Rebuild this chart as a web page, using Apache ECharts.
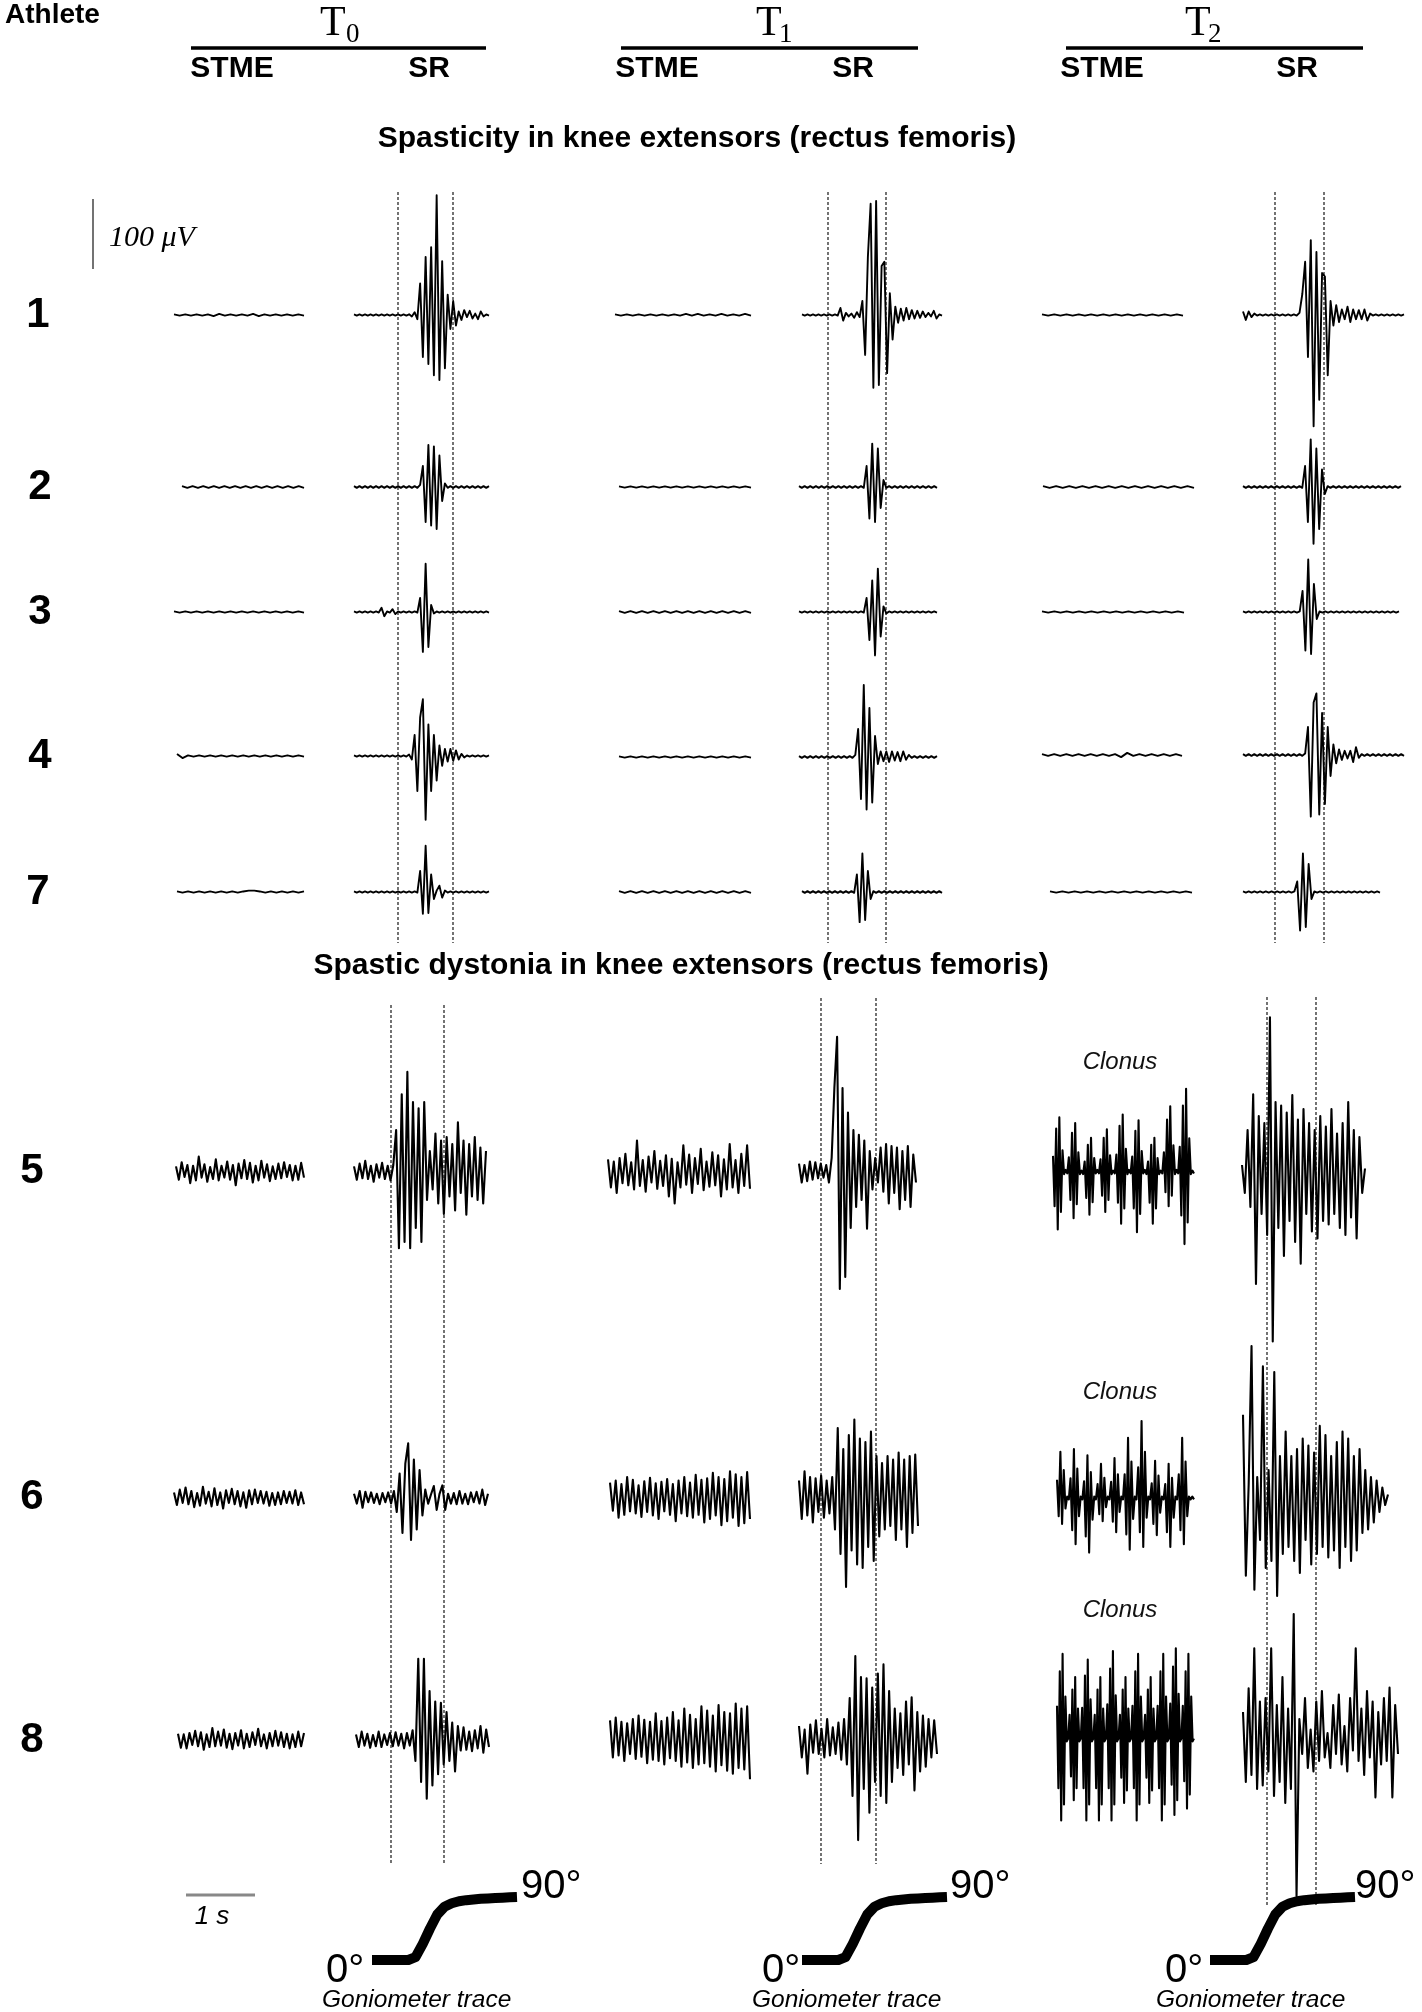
<!DOCTYPE html>
<html>
<head>
<meta charset="utf-8">
<title>EMG stretch responses</title>
<script src="https://cdn.jsdelivr.net/npm/echarts@6/dist/echarts.min.js"></script>
<style>
  html, body { margin: 0; padding: 0; background: #fff; }
  #chart { width: 1422px; height: 2012px; }
</style>
</head>
<body>
<div id="chart"></div>
<script>
// EMG samples in µV (one value per sample, left to right)

// spasticity, STME
const a1_t0_stme = [0.8,-0.8,0.8,-0.8,0.8,-0.8,0.8,-1.5,1.5,-0.8,0.8,-0.8,0.8,-0.8,1.5,-1.5,0.8,-0.8,0.8,-0.8,0.8,-0.8,0.8,-0.8];
const a1_t1_stme = [0.8,-0.8,0.8,-0.8,0.8,-0.8,0.8,-0.8,0.8,-0.8,0.8,-0.8,1.5,-0.8,1.5,-0.8,0.8,-0.8,1.5,-0.8,0.8,-0.8,1.5,-0.8];
const a1_t2_stme = [0.8,-0.8,0.8,-0.8,0.8,-0.8,0.8,-0.8,0.8,-0.8,0.8,-0.8,0.8,-0.8,0.8,-0.8,0.8,-0.8,0.8,-0.8,0.8,-0.8,0.8,-0.8];
const a2_t0_stme = [1.2,-1.2,1.2,-1.2,1.2,-1.2,1.2,-1.2,1.2,-1.2,1.2,-1.2,1.2,-1.2,1.2,-1.2,1.2,-1.2,1.2,-1.2,1.2,-1.2,1.2,-1.2];
const a2_t1_stme = [0.8,-0.8,0.8,-0.8,0.8,-0.8,0.8,-0.8,0.8,-0.8,0.8,-0.8,0.8,-0.8,0.8,-0.8,0.8,-0.8,0.8,-0.8,0.8,-0.8,0.8,-0.8];
const a2_t2_stme = [1.2,-1.2,1.2,-1.2,1.2,-1.2,1.2,-1.2,1.2,-1.2,1.2,-1.2,1.2,-1.2,1.2,-1.2,1.2,-1.2,1.2,-1.2,1.2,-1.2,1.2,-1.2];
const a3_t0_stme = [0.8,-0.8,0.8,-0.8,0.8,-0.8,0.8,-0.8,0.8,-0.8,0.8,-0.8,0.8,-0.8,0.8,-0.8,0.8,-0.8,0.8,-0.8,0.8,-0.8,0.8,-0.8];
const a3_t1_stme = [1.2,-1.2,1.2,-1.2,1.2,-1.2,1.2,-1.2,1.2,-1.2,1.2,-1.2,1.2,-1.2,1.2,-1.2,1.2,-1.2,1.2,-1.2,1.2,-1.2,1.2,-1.2];
const a3_t2_stme = [0.8,-0.8,0.8,-0.8,0.8,-0.8,0.8,-0.8,0.8,-0.8,0.8,-0.8,0.8,-0.8,0.8,-0.8,0.8,-0.8,0.8,-0.8,0.8,-0.8,0.8,-0.8];
const a4_t0_stme = [3,-3,0.8,-0.8,0.8,-0.8,0.8,-0.8,0.8,-0.8,0.8,-0.8,0.8,-0.8,0.8,-0.8,0.8,-0.8,0.8,-0.8,0.8,-0.8,0.8,-0.8];
const a4_t1_stme = [0.8,-0.8,0.8,-0.8,0.8,-0.8,0.8,-0.8,0.8,-0.8,0.8,-0.8,0.8,-0.8,0.8,-0.8,0.8,-0.8,0.8,-0.8,0.8,-0.8,0.8,-0.8];
const a4_t2_stme = [1.2,-1.2,1.2,-1.2,1.2,-1.2,1.2,-1.2,1.2,-1.2,1.2,-1.2,1.2,-3,3,-1.2,1.2,-1.2,1.2,-1.2,1.2,-1.2,1.2,-1.2];
const a7_t0_stme = [0.8,-0.8,0.8,-0.8,0.8,-0.8,0.8,-0.8,0.8,-0.8,0.8,-0.8,0.8,2,2,0.8,-0.8,0.8,-0.8,0.8,-0.8,0.8,-0.8,0.8];
const a7_t1_stme = [1.2,-1.2,1.2,-1.2,1.2,-1.2,1.2,-1.2,1.2,-1.2,1.2,-1.2,1.2,-1.2,1.2,-1.2,1.2,-1.2,1.2,-1.2,1.2,-1.2,1.2,-1.2];
const a7_t2_stme = [0.8,-0.8,0.8,-0.8,0.8,-0.8,0.8,-0.8,0.8,-0.8,0.8,-0.8,0.8,-0.8,0.8,-0.8,0.8,-0.8,0.8,-0.8,0.8,-0.8,0.8,-0.8];

// spasticity, SR
const a1_t0_sr = [0.8,-0.8,0.8,-0.8,0.8,-0.8,0.8,-0.8,0.8,-0.8,0.8,-0.8,0.8,-0.8,0.8,-0.8,0.8,-0.8,0.8,-0.8,1,-2,4,-6,45,-60,83,-70,97,-86,
  171,-93,77,-76,29,-20,20,-15,5,-7,7,-3,6,-5,2,-6,5,-2,0.8,-0.8];
const a2_t0_sr = [1.2,-1.2,1.2,-1.2,1.2,-1.2,1.2,-1.2,1.2,-1.2,1.2,-1.2,1.2,-1.2,1.2,-1.2,1.2,-1.2,1.2,-1.2,1.2,-1.2,1.2,-1.2,3,30,-50,60,-55,58,
  -60,45,-20,5,-1.2,1.2,-1.2,1.2,-1.2,1.2,-1.2,1.2,-1.2,1.2,-1.2,1.2,-1.2,1.2,-1.2,1.2];
const a3_t0_sr = [0.8,-0.8,0.8,-0.8,0.8,-0.8,0.8,-0.8,0.8,-0.8,6,-6,0.8,-0.8,4,-3,0.8,-0.8,0.8,-0.8,0.8,-0.8,0.8,-0.8,20,-57,69,-50,10,-2,
  0.8,-0.8,0.8,-0.8,0.8,-0.8,0.8,-0.8,0.8,-0.8,0.8,-0.8,0.8,-0.8,0.8,-0.8,0.8,-0.8,0.8,-0.8];
const a4_t0_sr = [0.8,-0.8,0.8,-0.8,0.8,-0.8,0.8,-0.8,0.8,-0.8,0.8,-0.8,0.8,-0.8,0.8,-0.8,0.8,-0.8,0.8,-0.8,2,-5,30,-50,55,81,-91,45,-50,30,
  -35,15,-14,10,-8,10,-7,8,-5,3,-2,0.8,-0.8,0.8,-0.8,0.8,-0.8,0.8,-0.8,0.8];
const a7_t0_sr = [0.8,-0.8,0.8,-0.8,0.8,-0.8,0.8,-0.8,0.8,-0.8,0.8,-0.8,0.8,-0.8,0.8,-0.8,0.8,-0.8,0.8,-0.8,0.8,-0.8,0.8,-0.8,30,-31,66,-30,25,-10,
  2,9,-8,2,-0.8,0.8,-0.8,0.8,-0.8,0.8,-0.8,0.8,-0.8,0.8,-0.8,0.8,-0.8,0.8,-0.8,0.8];
const a1_t1_sr = [0.8,-0.8,0.8,-0.8,0.8,-0.8,0.8,-0.8,0.8,-0.8,0.8,-0.8,0.8,-0.8,10,-8,3,-2,2,-4,4,-3,20,-57,83,159,-104,163,-100,70,
  76,-83,31,-35,12,-11,9,-8,10,-6,7,-5,6,-4,5,-3,3,-2,6,-5,0.8,-0.8];
const a2_t1_sr = [1.2,-1.2,1.2,-1.2,1.2,-1.2,1.2,-1.2,1.2,-1.2,1.2,-1.2,1.2,-1.2,1.2,-1.2,1.2,-1.2,1.2,-1.2,1.2,-1.2,1.2,-1.2,30,-45,62,-50,55,-30,
  10,-1.2,1.2,-1.2,1.2,-1.2,1.2,-1.2,1.2,-1.2,1.2,-1.2,1.2,-1.2,1.2,-1.2,1.2,-1.2,1.2,-1.2];
const a3_t1_sr = [0.8,-0.8,0.8,-0.8,0.8,-0.8,0.8,-0.8,0.8,-0.8,0.8,-0.8,0.8,-0.8,0.8,-0.8,0.8,-0.8,0.8,-0.8,0.8,-0.8,0.8,-0.8,20,-40,45,-62,62,-35,
  8,-2,0.8,-0.8,0.8,-0.8,0.8,-0.8,0.8,-0.8,0.8,-0.8,0.8,-0.8,0.8,-0.8,0.8,-0.8,0.8,-0.8];
const a4_t1_sr = [1.2,-1.2,1.2,-1.2,1.2,-1.2,1.2,-1.2,1.2,-1.2,1.2,-1.2,1.2,-1.2,1.2,-1.2,1.2,-1.2,1.2,-1.2,3,40,-60,103,-75,70,-65,30,-10,8,
  -6,8,-7,8,-5,7,-6,8,-4,3,-1.2,1.2,-1.2,1.2,-1.2,1.2,-1.2,1.2,-1.2,1.2];
const a7_t1_sr = [1.2,-1.2,1.2,-1.2,1.2,-1.2,1.2,-1.2,1.2,-1.2,1.2,-1.2,1.2,-1.2,1.2,-1.2,1.2,-1.2,1.2,-1.2,25,-43,55,-40,30,-10,1.2,-1.2,1.2,-1.2,
  1.2,-1.2,1.2,-1.2,1.2,-1.2,1.2,-1.2,1.2,-1.2,1.2,-1.2,1.2,-1.2,1.2,-1.2,1.2,-1.2,1.2,-1.2,1.2,-1.2];
const a1_t2_sr = [5,-7,5,-3,2,-0.8,0.8,-0.8,0.8,-0.8,0.8,-0.8,0.8,-0.8,0.8,-0.8,0.8,-0.8,0.8,-0.8,3,30,76,-60,107,-159,90,-121,60,55,
  -86,20,-15,14,-10,8,-6,12,-10,8,-6,7,-6,8,-8,2,-0.8,0.8,-0.8,0.8,-0.8,0.8,-0.8,0.8,-0.8,0.8,-0.8,0.8];
const a2_t2_sr = [1.2,-1.2,1.2,-1.2,1.2,-1.2,1.2,-1.2,1.2,-1.2,1.2,-1.2,1.2,-1.2,1.2,-1.2,1.2,-1.2,1.2,-1.2,1.2,-1.2,30,-50,68,-81,55,-60,25,-10,
  1.2,-1.2,1.2,-1.2,1.2,-1.2,1.2,-1.2,1.2,-1.2,1.2,-1.2,1.2,-1.2,1.2,-1.2,1.2,-1.2,1.2,-1.2,1.2,-1.2,1.2,-1.2,1.2,-1.2,1.2];
const a3_t2_sr = [0.8,-0.8,0.8,-0.8,0.8,-0.8,0.8,-0.8,0.8,-0.8,0.8,-0.8,0.8,-0.8,0.8,-0.8,0.8,-0.8,0.8,-0.8,0.8,30,-55,75,-60,40,-10,0.8,-0.8,0.8,
  -0.8,0.8,-0.8,0.8,-0.8,0.8,-0.8,0.8,-0.8,0.8,-0.8,0.8,-0.8,0.8,-0.8,0.8,-0.8,0.8,-0.8,0.8,-0.8,0.8,-0.8,0.8,-0.8,0.8];
const a4_t2_sr = [1.2,-1.2,1.2,-1.2,1.2,-1.2,1.2,-1.2,1.2,-1.2,1.2,-1.2,1.2,-1.2,1.2,-1.2,1.2,-1.2,1.2,-1.2,1.2,-1.2,2,40,-88,75,88,-85,60,-70,
  40,-30,15,-12,8,-7,6,-5,6,-10,11,-4,1.2,-1.2,1.2,-1.2,1.2,-1.2,1.2,-1.2,1.2,-1.2,1.2,-1.2,1.2,-1.2,1.2,-1.2];
const a7_t2_sr = [0.8,-0.8,0.8,-0.8,0.8,-0.8,0.8,-0.8,0.8,-0.8,0.8,-0.8,0.8,-0.8,0.8,-0.8,0.8,-0.8,0.8,15,-55,55,-50,40,-10,0.8,-0.8,0.8,-0.8,0.8,
  -0.8,0.8,-0.8,0.8,-0.8,0.8,-0.8,0.8,-0.8,0.8,-0.8,0.8,-0.8,0.8,-0.8,0.8,-0.8,0.8,-0.8];

// spastic dystonia, STME
const b5_t0_stme = [8,-11,14,-7,10,-16,9,-12,22,-8,11,-14,7,-10,18,-12,9,-8,15,-11,10,-19,12,-9,17,-10,13,-15,9,-12,
  16,-8,11,-13,8,-10,12,-9,14,-7,10,-12,9,-11,13,-8];
const b6_t0_stme = [8,-10,12,-7,15,-9,10,-13,7,-11,16,-8,9,-12,14,-10,8,-15,11,-7,13,-9,10,-12,8,-14,11,-9,12,-7,
  10,-8,9,-11,7,-10,8,-9,10,-7,9,-8,11,-10,8,-9];
const b8_t0_stme = [9,-11,8,-12,10,-7,13,-9,11,-14,8,-10,17,-9,12,-8,15,-11,9,-13,10,-8,14,-12,9,-10,11,-7,16,-9,
  8,-12,10,-9,13,-8,11,-10,9,-12,8,-10,12,-9,10];
const b5_t1_stme = [18,-22,15,-30,20,-16,26,-19,14,-25,45,-20,17,-28,22,-15,30,-24,16,-20,24,-35,19,-45,14,-22,38,-18,25,-30,
  20,-17,33,-26,15,-21,28,-19,24,-35,18,-25,40,-22,17,-30,26,-20,38,-24];
const b6_t1_stme = [22,-18,25,-28,20,-24,30,-19,26,-22,18,-27,24,-20,29,-25,21,-30,23,-19,27,-24,20,-33,25,-22,30,-26,22,-28,
  33,-24,26,-35,28,-30,36,-25,30,-39,27,-33,38,-28,34,-40,30,-36,37,-30];
const b8_t1_stme = [28,-25,32,-22,26,-30,24,-20,30,-27,35,-24,29,-33,26,-28,38,-30,27,-35,32,-26,40,-30,28,-38,45,-32,36,-40,
  30,-35,48,-33,42,-38,35,-45,50,-36,40,-44,38,-48,52,-40,45,-42,48,-56];
// clonus bursts
const b5_t2_stme = [23,-49,62,-82,78,-57,31,-3,3,-2, 21,-40,56,-66,70,-46,28,-3,2,-3, 15,-37,39,-61,49,-43,20,-2,3,-2,
  18,-34,49,-57,61,-40,24,-3,2,-2, 25,-44,66,-74,82,-52,33,-3,3,-2, 22,-52,59,-86,74,-60,30,-2,3,-3,
  15,-44,39,-74,49,-52,20,-3,2,-2, 28,-29,75,-49,94,-34,38,-3,3,-2, 36,-62,95,-103,119,-72,48,-3,2,-2];
const b6_t2_stme = [26,-26,66,-37,40,-15,2,-2, 28,-46,70,-66,42,-26,2,-2, 24,-55,61,-78,37,-31,2,-2, 20,-23,49,-33,29,-13,2,-2,
  23,-34,57,-49,34,-20,2,-2, 34,-52,86,-74,52,-30,2,-2, 44,-49,110,-70,66,-28,2,-2, 21,-37,53,-53,32,-21,2,-2,
  20,-49,49,-70,29,-28,2,-2, 34,-46,86,-66,52,-26,2,-2, 2,-2];
const b8_t2_stme = [49,-69,98,-115,123,-92,62,-2,2, 36,-52,72,-86,90,-69,45,-2,2, 46,-69,92,-115,115,-92,58,-2,2,
  36,-69,72,-115,90,-92,45,-2,2, 51,-69,102,-115,127,-92,64,-2,2, 36,-54,72,-90,90,-72,45,-2,2,
  49,-69,98,-115,123,-92,62,-2,2, 36,-54,72,-90,90,-72,45,-2,2, 49,-69,98,-115,123,-92,62,-2,2,
  52,-64,105,-107,131,-86,66,-2,2, 49,-59,98,-98,123,-78,62,-2,2];

// spastic dystonia, SR
const b5_t0_sr = [8,-11,12,-9,16,-10,9,-14,11,-8,13,-10,9,-12,10,60,-109,111,-100,143,-109,100,-80,91,-100,100,
  -40,30,-25,55,-45,45,-60,50,-35,40,-55,71,-30,45,-61,40,-35,50,-40,35,-45,30];
const b6_t0_sr = [6,-8,10,-14,9,-6,8,-7,6,-9,7,-6,8,-8,10,-20,35,-50,49,78,-60,55,-45,40,-25,
  12,-8,5,17,-17,6,18,-17,6,-8,7,-9,10,-8,6,-9,8,-6,9,-8,12,-10,6];
const b8_t0_sr = [8,-10,12,-8,9,-11,7,-9,12,-10,8,-7,10,-9,11,-8,9,-12,10,-8,14,-30,116,-60,116,-84,70,-65,55,-49,53,
  -35,40,-30,25,-45,20,-15,18,-14,12,-16,14,-12,20,-18,15,-10];
const b5_t1_sr = [12,-15,10,-13,15,-11,14,-9,12,-8,10,-15,20,120,193,-167,120,-150,85,-80,60,-50,53,-40,45,-81,
  30,-25,20,-15,35,-28,40,-45,37,-30,35,-53,30,-40,37,-50,25,-15];
const b6_t1_sr = [25,-30,38,-25,30,-35,28,-20,32,-28,25,-22,30,-45,100,-80,70,-127,90,-75,112,-95,85,-100,80,-70,95,-90,60,
  -55,50,-45,60,-40,55,-60,65,-45,55,-70,60,-50,62,-40];
const b8_t1_sr = [20,-25,15,-48,22,-18,28,-20,16,-25,30,-22,18,-20,25,-28,30,-35,
  60,-80,120,-143,90,-70,88,-104,75,-60,95,-80,108,-90,70,-60,
  45,-40,38,-50,55,-35,61,-72,40,-45,35,-38,30,-25,28,-20];
const b5_t2_sr = [10,-30,60,-50,111,-160,80,-60,70,-90,221,-242,100,-80,95,-120,85,-70,110,-100,75,-131,90,-60,70,-85,60,-95,80,-70,
  65,-75,90,-60,55,-80,70,-90,100,-65,60,-95,50,-30,5];
const b6_t2_sr = [119,-111,20,217,-131,30,-60,188,-100,40,-90,180,-140,60,-80,95,-70,60,-90,70,-107,85,-60,75,-95,65,-80,103,-70,90,
  -85,60,-75,80,-100,95,-70,85,-90,60,-75,70,-50,40,-45,30,-35,25,-20,15,-10,5];
const b8_t2_sr = [40,-60,74,-50,131,-70,55,-65,60,-45,131,-80,50,-60,90,-90,45,-70,180,-223,30,-20,60,-40,15,-45,55,-30,70,-25,
  10,-40,50,-20,65,-35,20,-45,60,-15,131,-30,45,-50,70,-25,55,-82,40,-35,60,-30,75,-82,50,-20];

// goniometer angle (degrees) during the stretch
const goniometer = [0,0,0,0,0,0,4,23,45,65,76,81,84,85.5,86.5,87.5,88,88.5,89,89.5,90];

// scale
const PX_PER_UV = 0.7;   // 100 µV = 70 px
const PX_PER_S = 69;     // 1 s = 69 px
const HALF = 200;        // half height of each trace panel (px)
const UV_RANGE = HALF / PX_PER_UV;

// [samples, left px, right px, baseline px]
const traces = [
  [a1_t0_stme, 174, 304, 315], [a1_t0_sr, 354, 489, 315], [a1_t1_stme, 615, 751, 315],
  [a1_t1_sr, 802, 942, 315], [a1_t2_stme, 1042, 1183, 315], [a1_t2_sr, 1243, 1404, 315],
  [a2_t0_stme, 182, 304, 487], [a2_t0_sr, 354, 489, 487], [a2_t1_stme, 619, 751, 487],
  [a2_t1_sr, 799, 937, 487], [a2_t2_stme, 1043, 1194, 487], [a2_t2_sr, 1243, 1401, 487],
  [a3_t0_stme, 174, 304, 612], [a3_t0_sr, 354, 489, 612], [a3_t1_stme, 619, 751, 612],
  [a3_t1_sr, 799, 937, 612], [a3_t2_stme, 1042, 1184, 612], [a3_t2_sr, 1243, 1399, 612],
  [a4_t0_stme, 177, 304, 756], [a4_t0_sr, 354, 489, 756], [a4_t1_stme, 619, 751, 757],
  [a4_t1_sr, 799, 937, 757], [a4_t2_stme, 1042, 1182, 755], [a4_t2_sr, 1243, 1404, 755],
  [a7_t0_stme, 177, 304, 892], [a7_t0_sr, 354, 489, 892], [a7_t1_stme, 619, 751, 892],
  [a7_t1_sr, 802, 942, 892], [a7_t2_stme, 1050, 1192, 892], [a7_t2_sr, 1243, 1380, 892],
  [b5_t0_stme, 176, 304, 1172], [b5_t0_sr, 354, 486, 1172], [b5_t1_stme, 608, 750, 1172],
  [b5_t1_sr, 799, 916, 1172], [b5_t2_stme, 1053, 1194, 1172], [b5_t2_sr, 1242, 1365, 1172],
  [b6_t0_stme, 174, 304, 1498], [b6_t0_sr, 354, 488, 1498], [b6_t1_stme, 610, 750, 1498],
  [b6_t1_sr, 799, 918, 1498], [b6_t2_stme, 1057, 1194, 1498], [b6_t2_sr, 1243, 1388, 1498],
  [b8_t0_stme, 178, 304, 1740], [b8_t0_sr, 356, 489, 1740], [b8_t1_stme, 610, 750, 1740],
  [b8_t1_sr, 799, 937, 1740], [b8_t2_stme, 1057, 1194, 1740], [b8_t2_sr, 1243, 1398, 1740]
];

const gonioLeft = [372, 802, 1210];
const GONIO_W = 145, GONIO_TOP = 1897, GONIO_H = 63;

const grid = [], xAxis = [], yAxis = [], series = [];

traces.forEach(([vals, x0, x1, y0]) => {
  const i = grid.length;
  grid.push({ left: x0, top: y0 - HALF, width: x1 - x0, height: 2 * HALF, outerBoundsMode: 'none' });
  xAxis.push({ gridIndex: i, type: 'value', min: 0, max: vals.length - 1, show: false });
  yAxis.push({ gridIndex: i, type: 'value', min: -UV_RANGE, max: UV_RANGE, show: false });
  series.push({
    type: 'line', xAxisIndex: i, yAxisIndex: i,
    data: vals.map((v, k) => [k, v]),
    symbol: 'none', clip: false, silent: true,
    lineStyle: { color: '#000', width: y0 > 1000 ? 2.1 : 1.9, join: 'round' }
  });
});

gonioLeft.forEach((x0) => {
  const i = grid.length;
  grid.push({ left: x0, top: GONIO_TOP, width: GONIO_W, height: GONIO_H, outerBoundsMode: 'none' });
  xAxis.push({ gridIndex: i, type: 'value', min: 0, max: goniometer.length - 1, show: false });
  yAxis.push({ gridIndex: i, type: 'value', min: 0, max: 90, show: false });
  series.push({
    type: 'line', xAxisIndex: i, yAxisIndex: i,
    data: goniometer.map((v, k) => [k, v]),
    symbol: 'none', clip: false, silent: true, smooth: false,
    lineStyle: { color: '#000', width: 10, cap: 'butt', join: 'round' }
  });
});

// annotations
const SANS = '"Liberation Sans", Arial, sans-serif';
const SERIF = '"Liberation Serif", "Times New Roman", serif';

const txt = (text, x, y, size, extra) => ({
  type: 'text', x, y, silent: true,
  style: Object.assign({
    text, fontSize: size, fontFamily: SANS, fill: '#000',
    align: 'center', verticalAlign: 'middle'
  }, extra || {})
});
const seg = (x1, y1, x2, y2, extra) => ({
  type: 'line', silent: true,
  shape: { x1, y1, x2, y2 },
  style: Object.assign({ stroke: '#000', lineWidth: 1 }, extra || {})
});
const bold = { fontWeight: 'bold' };

const graphic = [];

graphic.push(txt('Athlete', 5, 15, 28, { fontWeight: 'bold', align: 'left' }));

// session headers
[[191, 486, 320, 346, '0'], [621, 918, 756, 779, '1'], [1066, 1363, 1185, 1208, '2']].forEach(([l, r, tx, sx, sub]) => {
  graphic.push(seg(l, 48, r, 48, { lineWidth: 3.5 }));
  graphic.push(txt('T', tx, 24, 42, { fontFamily: SERIF, align: 'left' }));
  graphic.push(txt(sub, sx, 35, 27, { fontFamily: SERIF, align: 'left' }));
});
[['STME', 232], ['SR', 429], ['STME', 657], ['SR', 853], ['STME', 1102], ['SR', 1297]].forEach(([t, x]) => {
  graphic.push(txt(t, x, 69, 30, bold));
});

graphic.push(txt('Spasticity in knee extensors (rectus femoris)', 697, 139, 30, bold));
graphic.push(txt('Spastic dystonia in knee extensors (rectus femoris)', 681, 966, 30, bold));

[['1', 38, 315], ['2', 40, 487], ['3', 40, 612], ['4', 40, 756], ['7', 38, 892],
 ['5', 32, 1171], ['6', 32, 1497], ['8', 32, 1740]].forEach(([t, x, y]) => {
  graphic.push(txt(t, x, y, 42, bold));
});

// stretch onset / end markers
const dash = { lineDash: [3, 2], lineWidth: 1.1 };
[[398, 192, 943], [453, 192, 943], [828, 192, 943], [886, 192, 943], [1275, 192, 943], [1324, 192, 943],
 [391, 1005, 1864], [444, 1005, 1864], [821, 998, 1864], [876, 998, 1864], [1267, 997, 1905], [1316, 997, 1905]]
  .forEach(([x, y1, y2]) => graphic.push(seg(x, y1, x, y2, dash)));

// scale bars
graphic.push(seg(93, 199, 93, 199 + 100 * PX_PER_UV, { stroke: '#444', lineWidth: 1.5 }));
graphic.push(txt('100 μV', 109, 238, 30, { fontFamily: SERIF, fontStyle: 'italic', align: 'left' }));
graphic.push(seg(186, 1895, 186 + PX_PER_S, 1895, { stroke: '#888', lineWidth: 3 }));
graphic.push(txt('1 s', 212, 1917, 26, { fontStyle: 'italic' }));

[1062, 1392, 1610].forEach((y) => {
  graphic.push(txt('Clonus', 1120, y, 24, { fontStyle: 'italic', fill: '#111' }));
});

// goniometer labels
[[326, 521, 322], [762, 950, 752], [1165, 1355, 1156]].forEach(([z, n, g]) => {
  graphic.push(txt('0°', z, 1971, 40, { align: 'left' }));
  graphic.push(txt('90°', n, 1887, 40, { align: 'left' }));
  graphic.push(txt('Goniometer trace', g, 2000, 24.5, { fontStyle: 'italic', align: 'left' }));
});

const chart = echarts.init(document.getElementById('chart'), null, { renderer: 'canvas' });
chart.setOption({
  animation: false,
  backgroundColor: '#fff',
  grid, xAxis, yAxis, series, graphic
});
</script>
</body>
</html>
